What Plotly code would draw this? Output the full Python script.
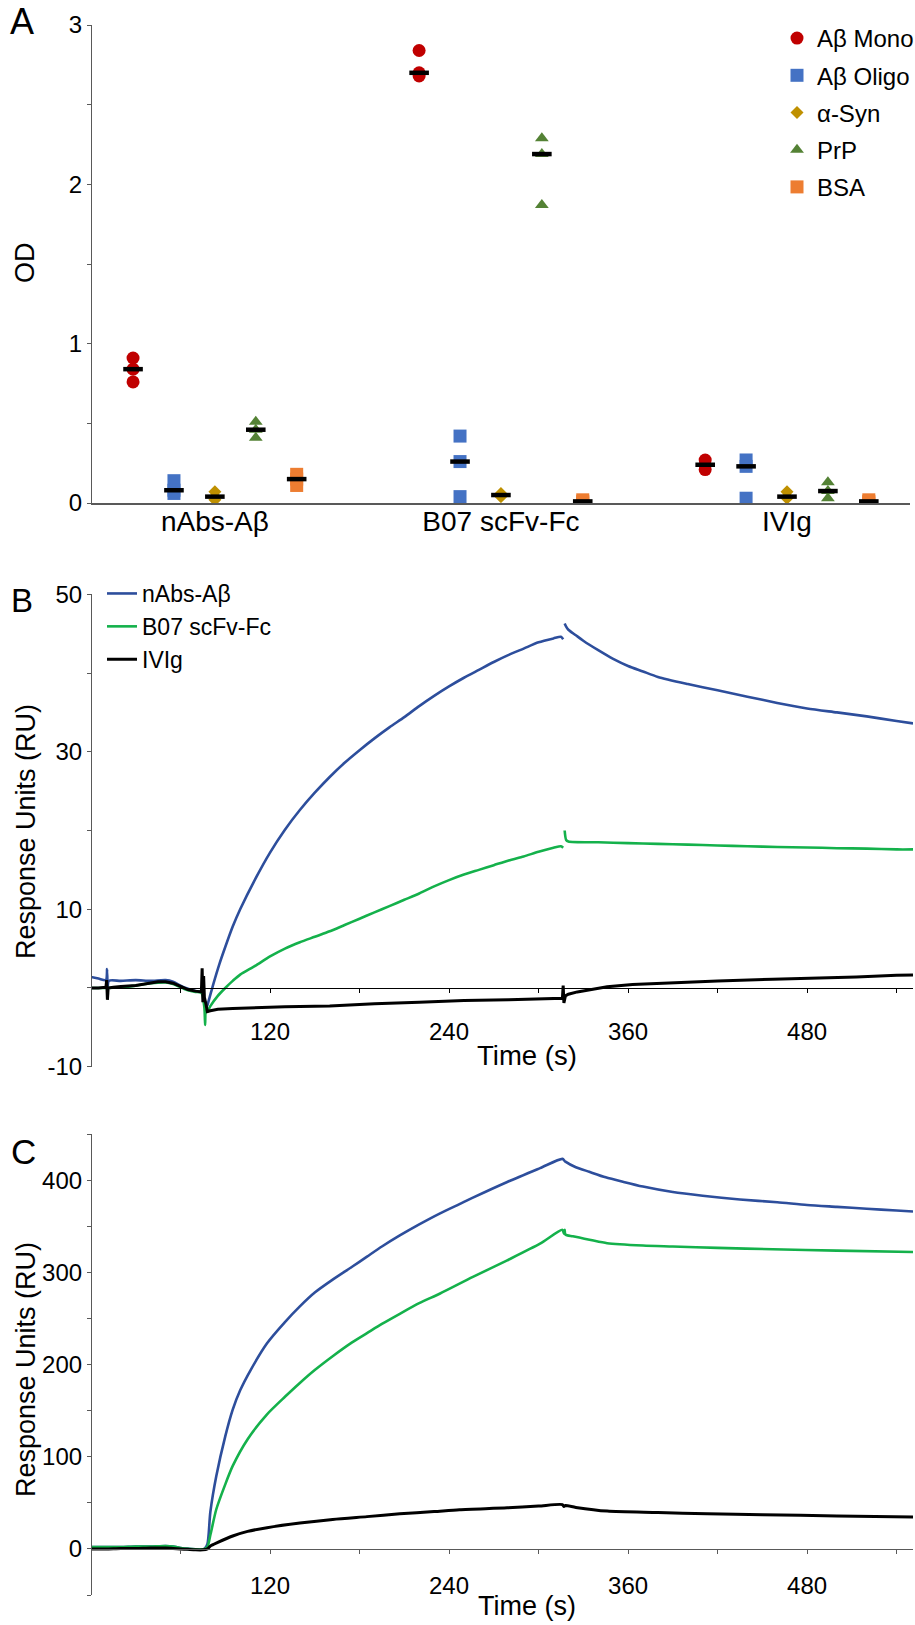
import numpy as np
import plotly.graph_objects as go

W, H = 915, 1625
FONT = "Liberation Sans, Arial, Helvetica, sans-serif"

# ---------------- Panel A data (ELISA OD, 3 replicates per category) ----------------
categories = ["nAbs-Aβ", "B07 scFv-Fc", "IVIg"]
antigens = ["Aβ Mono", "Aβ Oligo", "α-Syn", "PrP", "BSA"]
ab_mono = [[0.91, 0.84, 0.76], [2.84, 2.70, 2.68], [0.27, 0.24, 0.21]]
ab_oligo = [[0.14, 0.08, 0.06], [0.42, 0.26, 0.04], [0.27, 0.23, 0.03]]
a_syn = [[0.07, 0.04, 0.02], [0.06, 0.05, 0.04], [0.07, 0.04, 0.03]]
prp = [[0.51, 0.46, 0.41], [2.29, 2.19, 1.87], [0.13, 0.075, 0.03]]
bsa = [[0.18, 0.15, 0.11], [0.02, 0.01, 0.00], [0.02, 0.01, 0.00]]
a_yticks = [0, 0.5, 1, 1.5, 2, 2.5, 3]
a_yticktext = ["0", "", "1", "", "2", "", "3"]

# ---------------- Panel B data (SPR, low response) ----------------
b_blue_t = [0, 5, 10, 10.8, 11.2, 12, 20, 30, 40, 50, 55, 60, 65, 70, 74, 76, 77.5,
            78, 82, 86, 90, 95, 100, 110, 120, 130, 140, 150, 160, 170, 180, 190, 200,
            210, 220, 230, 240, 250, 260, 270, 280, 290, 300, 310, 315, 316.5,
            None,
            317.5, 318.5, 320, 325, 330, 340, 350, 360, 370, 380, 400, 420, 440, 460,
            480, 500, 520, 540, 551]
b_blue_y = [1.4, 1.2, 1.0, 2.4, -0.9, 0.9, 0.9, 1.0, 0.9, 1.0, 0.8, 0.3, -0.1, -0.4, -0.5, -1.5, -2.4,
            -2.2, 0.5, 3.0, 5.2, 7.8, 10.0, 13.8, 17.2, 20.1, 22.6, 24.8, 26.8, 28.6, 30.2, 31.7, 33.1,
            34.4, 35.8, 37.1, 38.3, 39.4, 40.4, 41.4, 42.3, 43.1, 43.9, 44.4, 44.6, 44.3,
            None,
            46.3, 45.9, 45.5, 44.8, 44.1, 42.9, 41.8, 40.9, 40.2, 39.5, 38.6, 37.8, 37.0, 36.2,
            35.5, 35.0, 34.5, 33.9, 33.6]

b_green_t = [0, 10, 20, 30, 40, 50, 55, 60, 65, 70, 74, 76, 76.5, 77, 78, 80, 85, 90, 95,
             100, 110, 120, 130, 140, 150, 160, 170, 180, 190, 200, 210, 220, 230, 240,
             250, 260, 270, 280, 290, 300, 310, 315, 316.5,
             None,
             317.5, 318.5, 320, 340, 360, 380, 400, 420, 440, 460, 480, 500, 520, 540, 551]
b_green_y = [0.0, 0.0, 0.1, 0.3, 0.6, 0.7, 0.5, 0.1, -0.3, -0.5, -0.6, -2.5, -4.7, -2.8, -3.0, -2.3, -1.0, 0.0, 0.9,
             1.7, 2.8, 4.0, 5.0, 5.8, 6.5, 7.2, 8.0, 8.8, 9.6, 10.4, 11.2, 12.0, 12.9, 13.7,
             14.4, 15.0, 15.6, 16.2, 16.7, 17.3, 17.8, 18.0, 17.8,
             None,
             20.0, 18.8, 18.6, 18.5, 18.4, 18.3, 18.2, 18.1, 18.0, 17.9, 17.85, 17.75, 17.7, 17.6, 17.6]

b_black_t = [0, 5, 10, 10.5, 11, 11.5, 15, 20, 30, 40, 45, 50, 55, 60, 65, 70, 74, 74.5, 75,
             75.5, 76, 77, 78, 80, 85, 95, 110, 130, 160, 190, 220, 250, 280, 300, 316,
             316.5, 317, 318, 320, 326, 335, 346, 363, 390, 406, 420, 457, 490, 513, 540, 551]
b_black_y = [0.0, 0.0, 0.1, 1.0, -1.5, 0.0, 0.1, 0.2, 0.3, 0.6, 0.8, 0.8, 0.6, 0.2, -0.2, -0.4, -0.5, 2.5, -1.8,
             1.5, -1.2, -2.0, -3.0, -2.9, -2.7, -2.6, -2.5, -2.4, -2.3, -2.0, -1.8, -1.6, -1.5, -1.4, -1.3,
             0.3, -1.9, -1.0, -0.8, -0.5, -0.2, 0.15, 0.45, 0.65, 0.85, 0.9, 1.1, 1.25, 1.4, 1.6, 1.65]

# ---------------- Panel C data (SPR, high response) ----------------
c_blue_t = [0, 10, 20, 30, 40, 50, 55, 60, 65, 70, 74, 76, 78, 80, 84, 90, 95, 100, 107,
            118, 130, 140, 150, 162, 175, 185, 195, 207, 220, 234, 247, 256, 279, 301, 316,
            318, 325, 334, 345, 357, 370, 390, 410, 435, 460, 480, 500, 520, 540, 551]
c_blue_y = [2, 2, 2, 2.5, 2.5, 3, 2.5, 1, 0, -0.5, -0.5, 0, 5, 40, 79, 122, 151, 172, 194,
            223, 246, 263, 278, 292, 306, 317, 328, 340, 352, 364, 374, 381, 398, 413, 423,
            420, 414, 409, 403, 398, 393, 387, 383, 379, 376, 373, 371, 369, 367, 366]

c_green_t = [0, 10, 20, 30, 40, 50, 55, 60, 65, 70, 74, 76, 78, 80, 84, 90, 95, 105, 118,
             130, 140, 150, 162, 175, 185, 195, 207, 220, 234, 256, 279, 301, 316,
             317, 317.5, 318, 323, 335, 346, 370, 390, 420, 457, 500, 551]
c_green_y = [2, 2, 2, 2.5, 2.5, 3, 2.5, 1, 0, -0.5, -0.5, 0, 2, 15, 43, 70, 90, 119, 146,
             165, 180, 194, 209, 224, 234, 244, 255, 266.5, 277, 295, 313, 331, 346,
             342, 346, 341, 339, 335, 331.5, 329, 328, 326.5, 325, 323.5, 322]

c_black_t = [0, 10, 20, 30, 40, 50, 55, 60, 65, 70, 75, 78, 80, 85, 95, 105, 118, 140, 162,
             185, 207, 230, 247, 279, 300, 316, 317, 318, 325, 346, 380, 413, 450, 500, 551]
c_black_y = [0, 0, 0.5, 0.5, 1, 1, 0.5, 0, -0.5, -1, -1, 0, 3, 7, 14, 19, 23, 28, 32,
             35, 38, 40.5, 42.5, 44.5, 46.5, 48, 46, 47, 45, 41, 39.5, 38, 37, 35.8, 34.7]

time_ticks = [60, 120, 180, 240, 300, 360, 420, 480, 540]
time_labels = [120, 240, 360, 480]
b_yticks = [-10, 0, 10, 20, 30, 40, 50]
b_yticktext = ["-10", "", "10", "", "30", "", "50"]
c_yticks = [-50, 0, 50, 100, 150, 200, 250, 300, 350, 400, 450]
c_yticktext = ["", "0", "", "100", "", "200", "", "300", "", "400", ""]

# ---------------- styles ----------------
a_colors = ["#C00000", "#4472C4", "#BF9000", "#548235", "#ED7D31"]
a_symbols = ["circle", "square", "diamond", "triangle-up", "square"]
a_sizes = [13, 13, 10, 12, 13]
offsets = [-0.286, -0.143, 0.0, 0.143, 0.286]
line_colors = ["#2D4E9C", "#14B14B", "#000000"]
series_names = ["nAbs-Aβ", "B07 scFv-Fc", "IVIg"]


def px(x):
    return x / W


def py(y):
    return 1 - y / H


fig = go.Figure()

# Panel A scatter points
a_data = [ab_mono, ab_oligo, a_syn, prp, bsa]
for k, (name, vals) in enumerate(zip(antigens, a_data)):
    xs, ys = [], []
    for ci, reps in enumerate(vals):
        for v in reps:
            xs.append(ci + offsets[k])
            ys.append(v)
    fig.add_trace(go.Scatter(
        x=xs, y=ys, mode="markers", name=name, legendgroup=name, legend="legend",
        marker=dict(symbol=a_symbols[k], size=a_sizes[k], color=a_colors[k], line=dict(width=0)),
        xaxis="x", yaxis="y", hoverinfo="skip"))

# median bars
bx, by = [], []
for k, vals in enumerate(a_data):
    for ci, reps in enumerate(vals):
        bx.append(ci + offsets[k])
        by.append(float(np.median(reps)))
fig.add_trace(go.Scatter(
    x=bx, y=by, mode="markers", showlegend=False,
    marker=dict(symbol="line-ew", size=14, line=dict(width=4.5, color="black")),
    xaxis="x", yaxis="y", hoverinfo="skip"))

# Panel B
for (t, y), name, col in zip([(b_blue_t, b_blue_y), (b_green_t, b_green_y), (b_black_t, b_black_y)],
                             series_names, line_colors):
    black = col == "#000000"
    fig.add_trace(go.Scatter(
        x=t, y=y, mode="lines", name=name, legend="legend2", connectgaps=False,
        line=dict(color=col, width=3 if black else 2.6,
                  shape="linear" if black else "spline", smoothing=0.7),
        xaxis="x2", yaxis="y2", hoverinfo="skip"))

# Panel C
for (t, y), name, col in zip([(c_blue_t, c_blue_y), (c_green_t, c_green_y), (c_black_t, c_black_y)],
                             series_names, line_colors):
    fig.add_trace(go.Scatter(
        x=t, y=y, mode="lines", name=name, showlegend=False,
        line=dict(color=col, width=3 if col == "#000000" else 2.6, shape="spline", smoothing=0.7),
        xaxis="x3", yaxis="y3", hoverinfo="skip"))

# empty traces carrying the time tick-label axes
fig.add_trace(go.Scatter(x=[None], y=[None], xaxis="x4", yaxis="y2", showlegend=False, hoverinfo="skip"))
fig.add_trace(go.Scatter(x=[None], y=[None], xaxis="x5", yaxis="y3", showlegend=False, hoverinfo="skip"))

axis_font = dict(family=FONT, size=24, color="black")
xdom = [px(91), px(913)]
gray = "#595959"


def time_axis(pos, color):
    return dict(domain=xdom, range=[0, 551], anchor="free", position=pos,
                tickmode="array", tickvals=time_ticks, showticklabels=False,
                ticks="outside", ticklen=4, tickcolor=color, tickwidth=1,
                showline=True, linecolor=color, linewidth=1.2, showgrid=False, zeroline=False)


def time_label_axis(pos, over):
    return dict(domain=xdom, range=[0, 551], anchor="free", position=pos, overlaying=over,
                tickmode="array", tickvals=time_labels, ticks="", tickfont=axis_font,
                showline=False, showgrid=False, zeroline=False)


def y_axis(dom, rng, tv, tt):
    return dict(domain=dom, range=rng, anchor="free", position=px(91),
                tickmode="array", tickvals=tv, ticktext=tt,
                ticks="outside", ticklen=4, tickcolor=gray, tickwidth=1,
                tickfont=axis_font, showline=True, linecolor=gray, linewidth=1.2,
                showgrid=False, zeroline=False)


fig.update_layout(
    width=W, height=H,
    margin=dict(l=0, r=0, t=0, b=0, pad=0, autoexpand=False),
    paper_bgcolor="white", plot_bgcolor="white",
    font=dict(family=FONT, color="black"),
    xaxis=dict(domain=[px(91), px(910)], range=[-0.433, 2.43], anchor="y",
               tickmode="array", tickvals=[0, 1, 2], ticktext=categories, ticks="",
               ticklabelstandoff=-7,
               tickfont=dict(family=FONT, size=28, color="black"),
               showline=True, linecolor=gray, linewidth=1.5, showgrid=False, zeroline=False),
    yaxis=y_axis([py(503), py(25)], [0, 3], a_yticks, a_yticktext),
    xaxis2=time_axis(py(988), "black"),
    yaxis2=y_axis([py(1066.7), py(594.3)], [-10, 50], b_yticks, b_yticktext),
    xaxis3=time_axis(py(1549.3), gray),
    yaxis3=y_axis([py(1595), py(1134)], [-50, 450], c_yticks, c_yticktext),
    xaxis4=time_label_axis(py(1015), "x2"),
    xaxis5=time_label_axis(py(1569), "x3"),
    legend=dict(x=px(777), y=py(16), xanchor="left", yanchor="top",
                font=dict(family=FONT, size=24, color="black"), bgcolor="rgba(0,0,0,0)",
                tracegroupgap=3, itemclick=False),
    legend2=dict(x=px(102), y=py(572), xanchor="left", yanchor="top",
                 font=dict(family=FONT, size=23, color="black"), bgcolor="rgba(0,0,0,0)",
                 tracegroupgap=0, itemclick=False),
    showlegend=True,
)

annotations = [
    dict(text="A", x=px(22), y=py(22), font=dict(size=36)),
    dict(text="B", x=px(22), y=py(600), font=dict(size=33)),
    dict(text="C", x=px(23), y=py(1151), font=dict(size=35)),
    dict(text="OD", x=px(25), y=py(263), textangle=-90, font=dict(size=27)),
    dict(text="Response Units (RU)", x=px(26), y=py(832), textangle=-90, font=dict(size=27)),
    dict(text="Response Units (RU)", x=px(26), y=py(1370), textangle=-90, font=dict(size=27)),
    dict(text="Time (s)", x=px(527), y=py(1055), font=dict(size=27.5)),
    dict(text="Time (s)", x=px(527), y=py(1606), font=dict(size=27)),
]
for a in annotations:
    a.update(xref="paper", yref="paper", showarrow=False, xanchor="center", yanchor="middle")
    a["font"].update(family=FONT, color="black")
fig.update_layout(annotations=annotations)

fig.write_html("out.html")
